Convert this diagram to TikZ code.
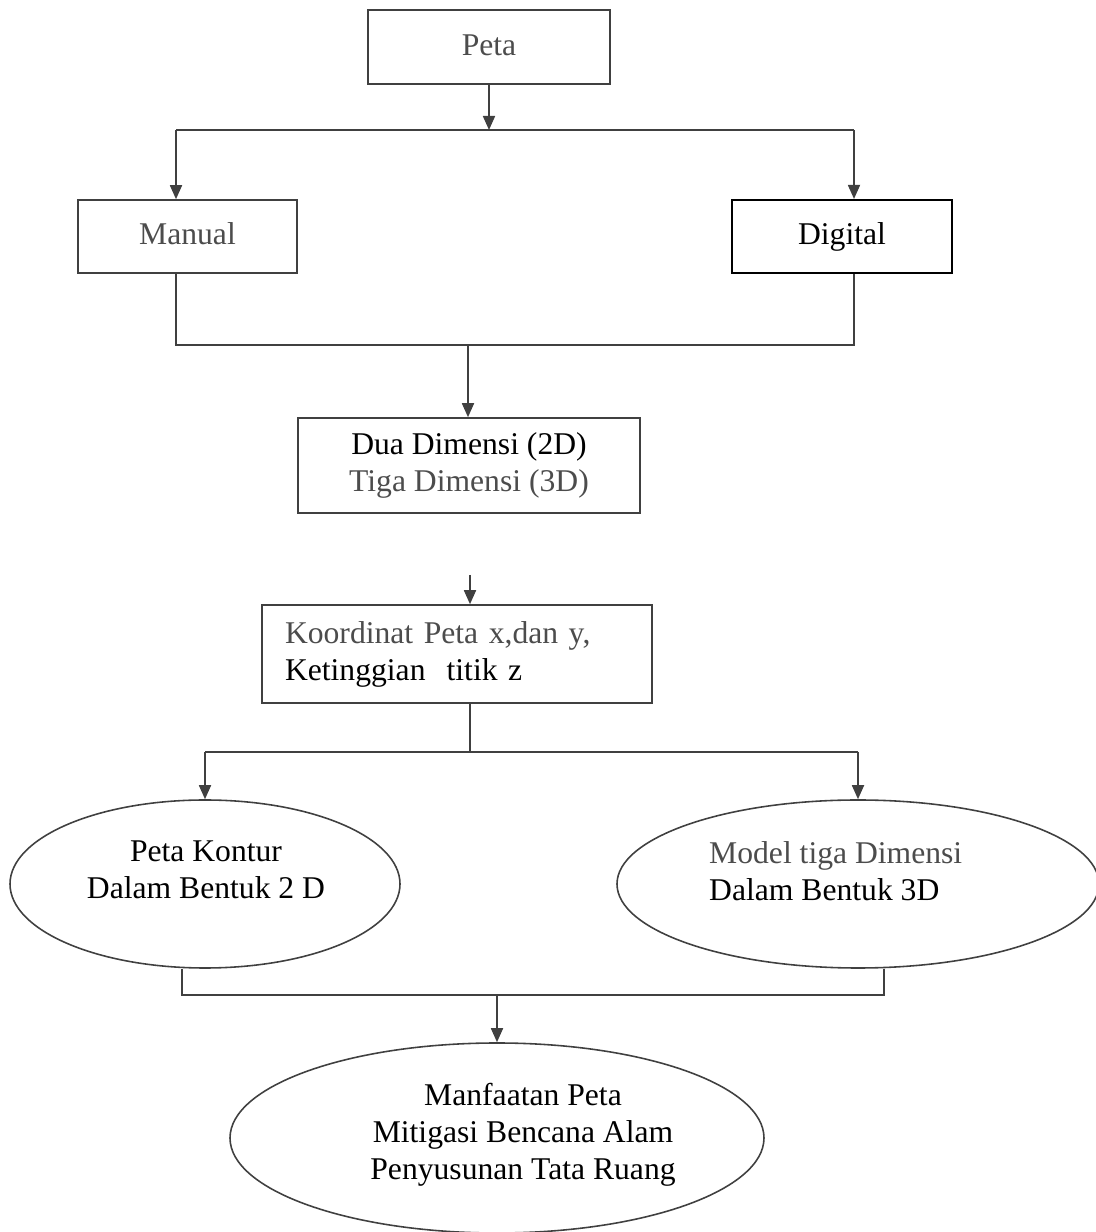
\documentclass[tikz,border=0pt]{standalone}
\usepackage{fontspec}
\setmainfont{Liberation Serif}
\usetikzlibrary{arrows.meta,shapes.geometric}
\definecolor{inkgray}{gray}{0.30}
\definecolor{linegray}{gray}{0.25}
\tikzset{
  flowtext/.style={font=\fontsize{18pt}{21pt}\selectfont},
  flowbox/.style={flowtext, draw=linegray, line width=0.9pt, inner sep=0pt},
  flowboxdark/.style={flowtext, draw=black, line width=1.2pt, inner sep=0pt},
  oneline/.style={text height=0.46cm, text depth=0.12cm},
  flowoval/.style={draw=linegray, line width=0.9pt, ellipse, inner sep=0pt},
  flowline/.style={draw=linegray, line width=1pt},
  flowarrow/.style={flowline, -{Triangle[length=0.28cm,width=0.24cm]}},
}
\begin{document}
\begin{tikzpicture}
            \useasboundingbox (0,0) rectangle (21.920000,24.640000);
            \clip (0,0) rectangle (21.920000,24.640000);

            % Drawing box Peta
            \node [flowbox, oneline, minimum width=4.84cm, minimum height=1.48cm, text=inkgray] (peta) at (9.780000,23.700000) {Peta};

            % Drawing boxes Manual and Digital
            \node [flowbox, oneline, minimum width=4.38cm, minimum height=1.46cm, text=inkgray] (manual) at (3.750000,19.910000) {Manual};
            \node [flowboxdark, oneline, minimum width=4.40cm, minimum height=1.46cm] (digital) at (16.840000,19.910000) {Digital};

            % Drawing box 2D / 3D
            \node [flowbox, minimum width=6.84cm, minimum height=1.90cm, align=center] (dimensi) at (9.380000,15.330000) {Dua Dimensi (2D)\\ \textcolor{inkgray}{Tiga Dimensi (3D)}};

            % Drawing box Koordinat
            \node [flowbox, minimum width=7.80cm, minimum height=1.96cm, inner xsep=0.46cm, text width=6.88cm, align=left] (koordinat) at (9.140000,11.560000) {\textcolor{inkgray}{Koordinat Peta x,dan y,}\\ Ketinggian\ \ titik z};

            % Drawing ovals
            \node [flowoval, minimum width=7.80cm, minimum height=3.36cm] (kontur) at (4.100000,6.960000) {};
            \node [flowtext, align=center] (konturtext) at (4.120000,7.240000) {Peta Kontur\\ Dalam Bentuk 2 D};
            \node [flowoval, minimum width=9.64cm, minimum height=3.36cm] (model) at (17.160000,6.960000) {};
            \node [flowtext, align=left, anchor=west] (modeltext) at (14.060000,7.220000) {\textcolor{inkgray}{Model tiga Dimensi}\\ Dalam Bentuk 3D};
            \node [flowoval, minimum width=10.68cm, minimum height=3.80cm] (manfaat) at (9.940000,1.880000) {};
            \node [flowtext, align=center] (manfaattext) at (10.460000,1.940000) {Manfaatan Peta\\ Mitigasi Bencana Alam\\ Penyusunan Tata Ruang};

            % Marking junction points
            \coordinate (split) at (9.780000,22.040000);
            \coordinate (splitL) at (3.520000,22.040000);
            \coordinate (splitR) at (17.080000,22.040000);
            \coordinate (mergeL) at (3.520000,17.740000);
            \coordinate (mergeR) at (17.080000,17.740000);
            \coordinate (merge) at (9.360000,17.740000);
            \coordinate (stub) at (9.400000,13.140000);
            \coordinate (branch) at (9.400000,9.600000);
            \coordinate (branchL) at (4.100000,9.600000);
            \coordinate (branchR) at (17.160000,9.600000);
            \coordinate (joinL) at (3.640000,4.740000);
            \coordinate (joinR) at (17.680000,4.740000);
            \coordinate (join) at (9.940000,4.740000);

            % Drawing Peta to Manual and Digital
            \draw [flowarrow] (peta.south) -- (split);
            \draw [flowline] (splitL) -- (splitR);
            \draw [flowarrow] (splitL) -- (manual.north -| splitL);
            \draw [flowarrow] (splitR) -- (digital.north -| splitR);

            % Drawing Manual and Digital to 2D / 3D
            \draw [flowline] (manual.south -| mergeL) -- (mergeL) -- (mergeR) -- (digital.south -| mergeR);
            \draw [flowarrow] (merge) -- (dimensi.north -| merge);

            % Drawing arrow to Koordinat
            \draw [flowarrow] (stub) -- (koordinat.north -| stub);

            % Drawing Koordinat to ovals
            \draw [flowline] (koordinat.south -| branch) -- (branch);
            \draw [flowline] (branchL) -- (branchR);
            \draw [flowarrow] (branchL) -- (kontur.north);
            \draw [flowarrow] (branchR) -- (model.north);

            % Drawing ovals to Manfaatan
            \draw [flowline] (kontur.south -| joinL) -- (joinL) -- (joinR) -- (model.south -| joinR);
            \draw [flowarrow] (join) -- (manfaat.north);
        \end{tikzpicture}
\end{document}
